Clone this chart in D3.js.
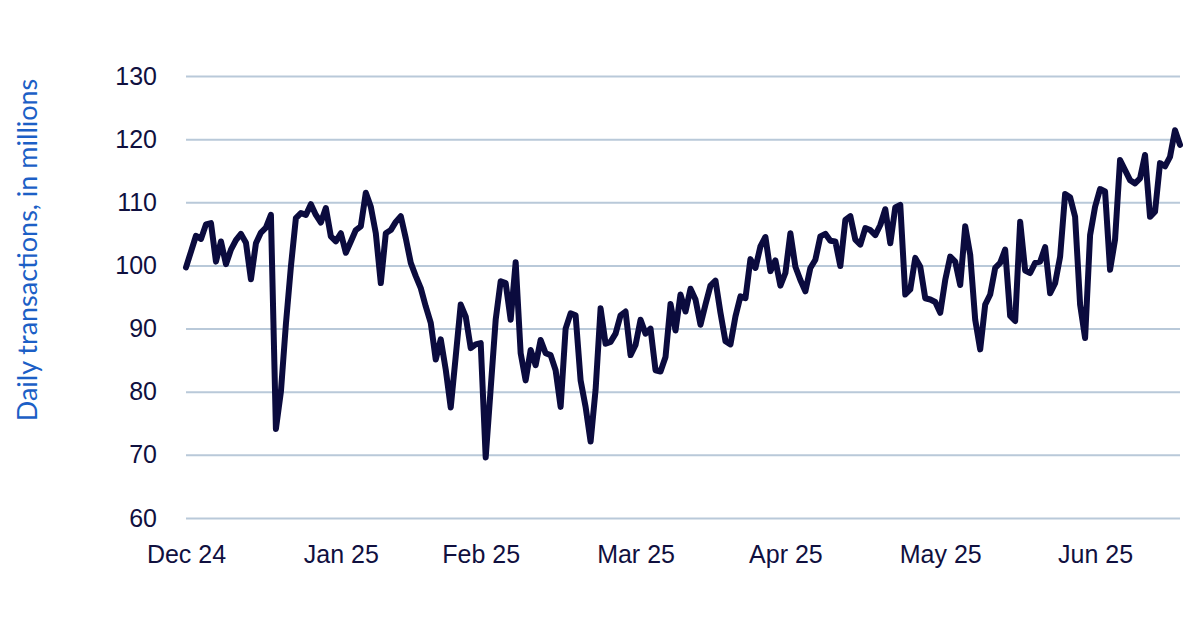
<!DOCTYPE html>
<html>
<head>
<meta charset="utf-8">
<script src="https://cdn.jsdelivr.net/npm/d3@7"></script>
<style>
  html, body { margin: 0; padding: 0; background: #fff; }
</style>
</head>
<body>
<div id="chart"></div>
<script>
// daily series, first value is 1 Dec 2024
var startDate = "2024-12-01";
var dailyValues = [
  99.7, 102.2, 104.7, 104.2, 106.5, 106.7, 100.6, 103.8, 100.2, 102.5,
  104.0, 105.0, 103.6, 97.8, 103.5, 105.2, 106.0, 108.0, 74.1, 80.0,
  90.7, 99.8, 107.5, 108.3, 108.0, 109.7, 108.0, 106.8, 109.1, 104.6,
  103.8, 105.1, 102.0, 103.8, 105.6, 106.2, 111.5, 109.3, 105.1, 97.2,
  105.1, 105.6, 106.9, 107.8, 104.3, 100.4, 98.3, 96.4, 93.5, 90.9,
  85.1, 88.3, 83.5, 77.5, 85.6, 93.8, 91.9, 86.9, 87.5, 87.7,
  69.6, 80.5, 91.4, 97.5, 97.2, 91.4, 100.5, 86.1, 81.8, 86.6,
  84.2, 88.2, 86.1, 85.8, 83.4, 77.6, 90.0, 92.4, 92.1, 81.8,
  77.6, 72.1, 80.3, 93.2, 87.6, 87.9, 89.2, 92.1, 92.7, 85.8,
  87.4, 91.4, 89.2, 90.0, 83.4, 83.2, 85.5, 93.9, 89.7, 95.4,
  92.7, 96.3, 94.6, 90.6, 93.8, 96.8, 97.6, 92.5, 88.0, 87.5,
  91.9, 95.1, 94.8, 101.0, 99.6, 103.0, 104.5, 99.1, 100.8, 96.8,
  98.8, 105.1, 99.8, 97.7, 95.9, 99.6, 100.9, 104.6, 105.0, 103.9,
  103.8, 99.9, 107.2, 107.8, 104.1, 103.3, 105.9, 105.6, 104.8, 106.4,
  108.9, 103.5, 109.2, 109.6, 95.4, 96.2, 101.2, 99.8, 94.8, 94.6,
  94.2, 92.5, 97.7, 101.4, 100.6, 96.9, 106.2, 101.7, 91.4, 86.7,
  93.8, 95.4, 99.6, 100.4, 102.5, 92.0, 91.2, 106.9, 99.2, 98.8,
  100.4, 100.6, 102.9, 95.6, 97.2, 101.4, 111.3, 110.8, 107.7, 93.8,
  88.5, 104.8, 109.3, 112.1, 111.7, 99.3, 104.1, 116.7, 115.1, 113.5,
  113.0, 113.8, 117.5, 107.7, 108.5, 116.2, 115.7, 117.2, 121.4, 119.1
];

var monthLabels = ["Dec 24", "Jan 25", "Feb 25", "Mar 25", "Apr 25", "May 25", "Jun 25"];
var monthLabelDates = ["2024-12-01", "2025-01-01", "2025-01-29", "2025-03-01", "2025-03-31", "2025-05-01", "2025-06-01"];
var yTicks = [60, 70, 80, 90, 100, 110, 120, 130];
var yTitle = "Daily transactions, in millions";

var parseDate = d3.timeParse("%Y-%m-%d");
var t0 = parseDate(startDate);
var data = dailyValues.map((v, i) => ({ date: d3.timeDay.offset(t0, i), value: v }));

var width = 1200, height = 627;
var margin = {top: 76, right: 20, bottom: 109, left: 186};

var svg = d3.select("#chart").append("svg")
  .attr("width", width)
  .attr("height", height)
  .attr("font-family", "Lato, 'Open Sans', sans-serif");

var x = d3.scaleTime()
  .domain(d3.extent(data, d => d.date))
  .range([margin.left, width - margin.right]);

var y = d3.scaleLinear()
  .domain([60, 130])
  .range([height - margin.bottom, margin.top]);

// gridlines + y labels
var yAxis = g => g
  .attr("transform", `translate(${margin.left},0)`)
  .call(d3.axisLeft(y).tickValues(yTicks).tickSize(-(width - margin.right - margin.left)).tickPadding(29))
  .call(g => g.select(".domain").remove())
  .call(g => g.selectAll(".tick line")
    .attr("stroke", "#b9c9d9")
    .attr("stroke-width", 2))
  .call(g => g.selectAll(".tick text")
    .attr("fill", "#10103f")
    .attr("font-size", "25px"));

svg.append("g").call(yAxis);

// month labels, no tick marks
var xAxis = g => g
  .attr("transform", `translate(0,${height - margin.bottom})`)
  .call(d3.axisBottom(x)
    .tickValues(monthLabelDates.map(parseDate))
    .tickFormat((d, i) => monthLabels[i])
    .tickSize(0)
    .tickPadding(27))
  .call(g => g.select(".domain").remove())
  .call(g => g.selectAll(".tick text")
    .attr("fill", "#10103f")
    .attr("font-size", "25px"));

svg.append("g").call(xAxis);

svg.append("text")
  .attr("transform", `translate(37,250) rotate(-90)`)
  .attr("text-anchor", "middle")
  .attr("fill", "#1c5fc6")
  .attr("font-size", "27px")
  .text(yTitle);

var line = d3.line()
  .x(d => x(d.date))
  .y(d => y(d.value));

svg.append("path")
  .datum(data)
  .attr("fill", "none")
  .attr("stroke", "#0b0b3e")
  .attr("stroke-width", 6)
  .attr("stroke-linejoin", "round")
  .attr("stroke-linecap", "round")
  .attr("d", line);
</script>
</body>
</html>
